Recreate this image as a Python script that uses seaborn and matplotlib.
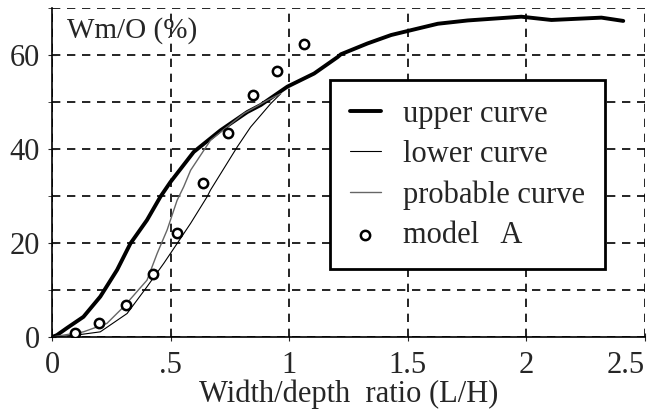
import numpy as np
import pandas as pd
import seaborn as sns
import matplotlib.pyplot as plt
from matplotlib.ticker import FixedLocator

# curves
upper_x = [0, 0.02, 0.062, 0.132, 0.203, 0.274, 0.33, 0.40, 0.457, 0.499, 0.597, 0.71,
           0.823, 0.88, 0.992, 1.105, 1.204, 1.218, 1.33, 1.43, 1.528, 1.627, 1.753,
           1.979, 2.106, 2.317, 2.409]
upper_y = [0, 0.4, 1.9, 4.3, 8.6, 14.3, 19.9, 24.9, 29.9, 33.0, 39.4, 44.0,
           47.9, 49.4, 53.3, 56.1, 59.6, 60.2, 62.5, 64.3, 65.5, 66.7, 67.4,
           68.2, 67.5, 68.0, 67.3]

lower_x = [0, 0.10, 0.203, 0.316, 0.40, 0.471, 0.527, 0.584, 0.654, 0.668, 0.781, 0.837, 0.922, 0.964]
lower_y = [0, 0.4, 1.1, 5.0, 10.7, 15.7, 19.9, 24.2, 29.9, 31.3, 40.5, 44.7, 49.7, 51.8]

prob_x = [0, 0.132, 0.231, 0.301, 0.40, 0.443, 0.485, 0.527, 0.555, 0.584, 0.668, 0.809, 0.908, 0.964]
prob_y = [0, 1.1, 2.9, 6.4, 12.1, 17.8, 22.8, 29.1, 32.0, 35.5, 41.9, 47.6, 50.4, 51.8]

model_x = [0.097, 0.196, 0.311, 0.424, 0.527, 0.637, 0.743, 0.847, 0.947, 1.063]
model_y = [0.8, 3.0, 6.8, 13.5, 22.1, 32.7, 43.5, 51.5, 56.6, 62.3]

x_ticks = [0, 0.5, 1, 1.5, 2, 2.5]
x_labels = ['0', '.5', '1', '1.5', '2', '2.5']
y_ticks = [0, 20, 40, 60]

sns.set_style("ticks")
plt.rcParams['font.family'] = ['Liberation Serif', 'DejaVu Serif']

fig, ax = plt.subplots(figsize=(6.52, 4.12), dpi=100)
fig.subplots_adjust(left=0.08, right=0.989, bottom=0.182, top=0.98)

sns.lineplot(x=upper_x, y=upper_y, ax=ax, color='black', lw=2.8, label='upper curve', sort=False)
sns.lineplot(x=lower_x, y=lower_y, ax=ax, color='black', lw=0.8, label='lower curve', sort=False)
sns.lineplot(x=prob_x, y=prob_y, ax=ax, color='#666666', lw=1.0, label='probable curve', sort=False)
sns.scatterplot(x=model_x, y=model_y, ax=ax, marker='o', s=45, facecolor='white',
                edgecolor='black', linewidth=1.8, label='model   A', zorder=5)

ax.set_xlim(0, 2.5)
ax.set_ylim(0, 70)
ax.set_xticks(x_ticks)
ax.set_xticklabels(x_labels)
ax.get_xticklabels()[-1].set_horizontalalignment('right')
ax.set_yticks(y_ticks)
ax.yaxis.set_minor_locator(FixedLocator([10, 30, 50, 70]))
ax.grid(True, which='both', color='black', ls=(0, (5, 4)), lw=1.2)
ax.tick_params(axis='both', which='both', direction='inout', labelsize=22, length=6, pad=6)
ax.tick_params(axis='x', pad=7)

for s in ['top', 'right']:
    ax.spines[s].set_visible(False)
for s in ['left', 'bottom']:
    ax.spines[s].set_color('black')
    ax.spines[s].set_linewidth(1.2)

ax.set_xlabel('Width/depth  ratio (L/H)', fontsize=22, labelpad=0)
ax.set_ylabel('')
ax.text(0.063, 65.3, 'Wm/O (%)', fontsize=21, va='center', ha='left')

leg = ax.legend(loc='upper left', bbox_to_anchor=(0.469, 0.781), borderaxespad=0, fontsize=22,
                frameon=True, fancybox=False, framealpha=1, edgecolor='black',
                handlelength=1.0, borderpad=0.65, labelspacing=0.36, handletextpad=0.75)
leg.get_frame().set_linewidth(2)

fig.savefig('out.png', dpi=100)
